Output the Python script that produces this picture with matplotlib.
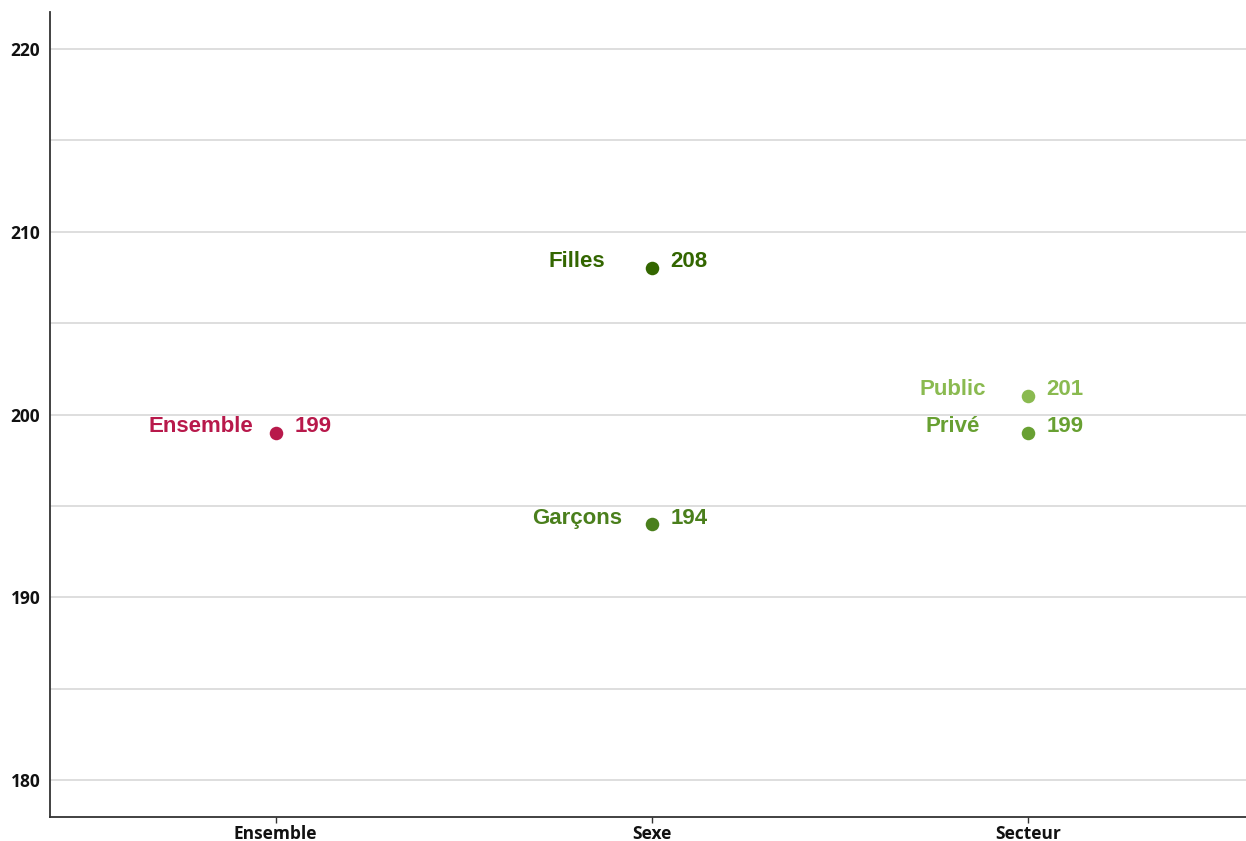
import matplotlib.pyplot as plt
from matplotlib.ticker import MultipleLocator

# data
groups = ["Ensemble", "Sexe", "Secteur"]
labels = ["Ensemble", "Filles", "Garçons", "Public", "Privé"]
group_of = [0, 1, 1, 2, 2]
values = [199, 208, 194, 201, 199]
colors = ["#b8194b", "#336600", "#4a7f1c", "#8aba50", "#68a032"]

fig = plt.figure(figsize=(12.46, 8.41), dpi=100)
ax = fig.add_axes([50 / 1246, 24 / 841, 1196 / 1246, 805 / 841])

for g, v, lab, c in zip(group_of, values, labels, colors):
    ax.scatter(g, v, s=95, color=c, zorder=3, linewidths=0)
    # names are centred at a fixed distance left of the point
    ax.annotate(lab, (g, v), xytext=(-54, 4.5), textcoords="offset points",
                ha="center", va="center", color=c, fontsize=16,
                fontweight="bold", family="Liberation Sans")
    ax.annotate(str(v), (g, v), xytext=(13.5, 4.5), textcoords="offset points",
                ha="left", va="center", color=c, fontsize=16,
                fontweight="bold", family="Liberation Sans")

ax.set_xlim(-0.6, 2.58)
ax.set_ylim(178, 222)
ax.set_xticks(range(len(groups)))
ax.set_xticklabels(groups)
ax.yaxis.set_major_locator(MultipleLocator(10))
ax.yaxis.set_minor_locator(MultipleLocator(5))
ax.grid(axis="y", which="both", color="#d8d8d8", linewidth=1.2, zorder=0)
ax.set_axisbelow(True)

for s in ["top", "right"]:
    ax.spines[s].set_visible(False)
for s in ["left", "bottom"]:
    ax.spines[s].set_color("#333333")
    ax.spines[s].set_linewidth(1.3)

ax.tick_params(axis="y", which="both", length=0, pad=7)
ax.tick_params(axis="x", length=4, width=1, color="#333333", pad=2)
for t in ax.get_xticklabels() + ax.get_yticklabels():
    t.set_family("Open Sans")
    t.set_fontweight("bold")
    t.set_fontsize(12.5)
    t.set_color("#111111")

fig.savefig("out.png", dpi=100)
